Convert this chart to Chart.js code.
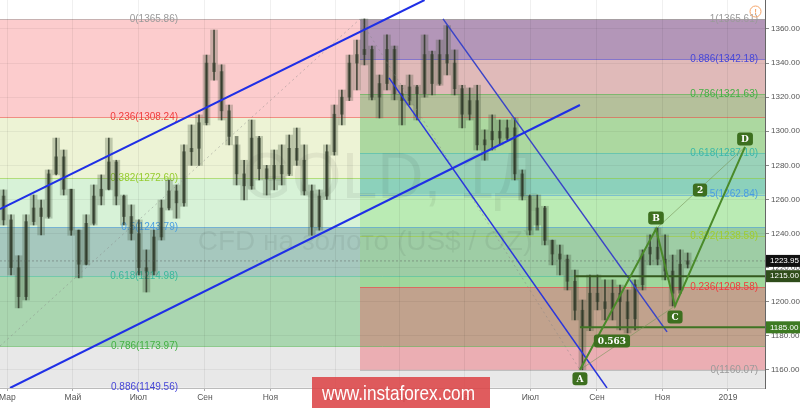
<!DOCTYPE html>
<html>
<head>
<meta charset="utf-8">
<script src="https://cdn.jsdelivr.net/npm/chart.js@4/dist/chart.umd.min.js"></script>
<style>
html, body { margin: 0; padding: 0; background: #fff; }
</style>
</head>
<body>
<canvas id="gold" width="800" height="408"></canvas>
<script>
// days counted from 1 Jan 2017
const firstDay = 52.2, lastDay = 764.5;
const tickDays = [59, 120, 181, 243, 304, 365, 424, 485, 546, 608, 669, 730];
const tickNames = ["Мар", "Май", "Июл", "Сен", "Ноя", "2018", "Мар", "Май", "Июл", "Сен", "Ноя", "2019"];
const priceTicks = [1160, 1180, 1200, 1220, 1240, 1260, 1280, 1300, 1320, 1340, 1360];

// weekly bars, first one centred on day 55.5
const firstWeekDay = 55.5;
const weekOpen = [1262, 1248, 1220, 1203, 1247, 1255, 1250, 1275, 1285, 1266, 1242, 1222, 1246, 1262, 1266, 1282,
  1262, 1250, 1240, 1220, 1218, 1238, 1255, 1265, 1258, 1288, 1290, 1305, 1340, 1335, 1312, 1297, 1275, 1268, 1296,
  1278, 1272, 1280, 1275, 1290, 1283, 1265, 1244, 1262, 1288, 1310, 1320, 1340, 1345, 1348, 1320, 1328, 1348, 1322,
  1318, 1326, 1322, 1345, 1328, 1345, 1340, 1325, 1310, 1318, 1292, 1295, 1300, 1296, 1302, 1275, 1262, 1242, 1255,
  1236, 1228, 1225, 1212, 1195, 1185, 1205, 1200, 1196, 1205, 1200, 1190, 1210, 1228, 1232, 1225, 1218, 1205, 1222];
const weekClose = [1248, 1220, 1203, 1247, 1255, 1250, 1275, 1285, 1266, 1242, 1222, 1246, 1262, 1266, 1282, 1262,
  1250, 1240, 1220, 1218, 1238, 1255, 1265, 1258, 1288, 1290, 1305, 1340, 1335, 1312, 1297, 1275, 1268, 1296, 1278,
  1272, 1280, 1275, 1290, 1283, 1265, 1244, 1262, 1288, 1310, 1320, 1340, 1345, 1348, 1320, 1328, 1348, 1322, 1318,
  1326, 1322, 1345, 1328, 1345, 1340, 1325, 1310, 1318, 1292, 1295, 1300, 1296, 1302, 1275, 1262, 1242, 1255, 1236,
  1228, 1225, 1212, 1195, 1185, 1205, 1200, 1196, 1205, 1200, 1190, 1210, 1228, 1232, 1225, 1218, 1205, 1222, 1224];
const weekHigh = [1265.6, 1251, 1227, 1251, 1262.6, 1259.7, 1277.3, 1296, 1289, 1266, 1242, 1251, 1268.5, 1274.4,
  1296, 1283, 1262.6, 1256.8, 1248, 1230.4, 1242, 1259.7, 1271.4, 1268.5, 1292, 1303.7, 1309.6, 1344.7, 1359.4, 1339,
  1315.4, 1292, 1283, 1306.6, 1297, 1280, 1289, 1292, 1297.8, 1301.9, 1292, 1268.5, 1265.6, 1292, 1315.4, 1324.2,
  1344.7, 1353.5, 1365.9, 1350, 1333, 1356.5, 1350, 1327, 1333, 1327, 1356.5, 1347, 1353.5, 1362, 1347.7, 1327,
  1325.4, 1327, 1300.8, 1309.6, 1306.6, 1306.6, 1307.8, 1277.3, 1262.6, 1262.6, 1256, 1236.2, 1233.3, 1227.4, 1218.6,
  1201, 1215.7, 1215.7, 1212.8, 1212.8, 1209.8, 1206.9, 1212.8, 1230.4, 1239.2, 1243.3, 1239.2, 1227.4, 1230.4, 1228.6];
const weekLow = [1245, 1215.7, 1196.4, 1201, 1245, 1239.2, 1249, 1274.4, 1262.6, 1239, 1214, 1221.6, 1245, 1256.8,
  1265.6, 1256.8, 1245, 1236.2, 1215.7, 1205.7, 1215.7, 1236.2, 1253.8, 1249, 1256, 1280, 1280, 1303.7, 1330, 1306.6,
  1292, 1268.5, 1259.7, 1266, 1271.4, 1262.6, 1265.6, 1268.5, 1274, 1280, 1262.6, 1239, 1242, 1260, 1286, 1303.7,
  1318, 1324.2, 1338.9, 1318.4, 1307.8, 1324.2, 1318.4, 1303.7, 1315.4, 1306.6, 1320, 1321.3, 1327, 1333, 1321.3,
  1302, 1306.6, 1289, 1283, 1289, 1292, 1295, 1271.4, 1259.7, 1239.2, 1245, 1233.3, 1221.6, 1215.7, 1206.9, 1189.3,
  1160.1, 1183, 1195.2, 1189.3, 1189.3, 1183.5, 1181.7, 1183.5, 1206.9, 1221.6, 1221.6, 1212.8, 1197.5, 1206.9, 1219.8];

// fibonacci retracements
const leftFibRatios = ["0", "0.236", "0.382", "0.5", "0.618", "0.786", "0.886"];
const leftFibPrices = [1365.86, 1308.24, 1272.60, 1243.79, 1214.98, 1173.97, 1149.56];
const leftFibColors = ["#9a9a9a", "#f03c3c", "#96cc30", "#4a9ee0", "#3cb89c", "#44b044", "#4646d8"];
const leftFibFills = ["rgb(252,204,205)", "rgb(237,243,213)", "rgb(215,242,215)", "rgb(166,200,190)",
  "rgb(170,214,176)", "rgb(232,232,232)"];
const leftFibLabelDay = 218;

const rightFibStartDay = 387.4;
const rightFibRatios = ["1", "0.886", "0.786", "0.618", "0.5", "0.382", "0.236", "0"];
const rightFibPrices = [1365.61, 1342.18, 1321.63, 1287.10, 1262.84, 1238.59, 1208.58, 1160.07];
const rightFibColors = ["#9a9a9a", "#4646d8", "#44b044", "#3cb8a8", "#4a9ee0", "#a0cc30", "#f03c3c", "#9a9a9a"];
const rightFibFills = ["rgba(92,85,160,0.45)", "rgba(117,113,105,0.2)", "rgba(76,175,80,0.4)", "rgba(0,150,136,0.35)",
  "rgba(120,220,100,0.3)", "rgba(140,220,110,0.3)", "rgba(242,54,69,0.32)"];
const rightFibLabelDay = 758;

// drawn lines: [day, price] ends
const upperChannel = [[52.2, 1254.4], [447.5, 1377.0]];
const lowerChannel = [[61.5, 1149.4], [592.2, 1315.4]];
const fallTop = [[464.7, 1365.9], [673.3, 1182.3]];
const fallLow = [[414.4, 1331.3], [617.4, 1149.4]];
const leftFibTrend = [[52.2, 1174.0], [387.4, 1365.86]];
const rightFibTrend = [[387.4, 1365.61], [592.2, 1160.07]];

// ABCD pattern
const patternNames = ["A", "B", "C", "D"];
const patternDays = [592.2, 663.0, 680.7, 745.9];
const patternPrices = [1160.07, 1242.7, 1197.5, 1290.8];
const ratioText = "0.563", ratioDay = 622, ratioPrice = 1177;
const stepText = "2", stepDay = 704, stepPrice = 1265.6;

const level1215 = [[586.6, 1215], [lastDay, 1215]];
const level1185 = [[592.2, 1185], [lastDay, 1185]];
const lastPrice = 1223.95;

const pts = (arr) => arr.map(p => ({ x: p[0], y: p[1] }));

function lineSet(points, color, width, dash) {
  return {
    type: "line", data: pts(points), borderColor: color, borderWidth: width,
    borderDash: dash || [], pointRadius: 0, fill: false, tension: 0
  };
}

const fibPlugin = {
  id: "fib",
  beforeDraw(chart) {
    const { ctx, chartArea: a, scales } = chart;
    const X = (d) => scales.x.getPixelForValue(d);
    const Y = (p) => scales.y.getPixelForValue(p);
    ctx.save();
    ctx.beginPath();
    ctx.rect(a.left, a.top, a.width, a.height);
    ctx.clip();
    for (let i = 0; i < leftFibFills.length; i++) {
      const y1 = Y(leftFibPrices[i]), y2 = Y(leftFibPrices[i + 1]);
      ctx.fillStyle = leftFibFills[i];
      ctx.fillRect(a.left, y1, a.right - a.left, y2 - y1);
    }
    const rx = X(rightFibStartDay);
    for (let i = 0; i < rightFibFills.length; i++) {
      const y1 = Y(rightFibPrices[i]), y2 = Y(rightFibPrices[i + 1]);
      ctx.fillStyle = rightFibFills[i];
      ctx.fillRect(rx, y1, a.right - rx, y2 - y1);
    }
    ctx.lineWidth = 1;
    ctx.globalAlpha = 0.55;
    leftFibPrices.forEach((p, i) => {
      const y = Math.round(Y(p)) + 0.5;
      ctx.strokeStyle = leftFibColors[i];
      ctx.beginPath(); ctx.moveTo(a.left, y); ctx.lineTo(a.right, y); ctx.stroke();
    });
    rightFibPrices.forEach((p, i) => {
      const y = Math.round(Y(p)) + 0.5;
      ctx.strokeStyle = rightFibColors[i];
      ctx.beginPath(); ctx.moveTo(rx, y); ctx.lineTo(a.right, y); ctx.stroke();
    });
    ctx.restore();
  },
  beforeDatasetsDraw(chart) {
    const { ctx, scales } = chart;
    const X = (d) => scales.x.getPixelForValue(d);
    const Y = (p) => scales.y.getPixelForValue(p);
    ctx.save();
    // watermark
    ctx.fillStyle = "rgba(0,0,0,0.06)";
    ctx.textAlign = "center";
    ctx.textBaseline = "alphabetic";
    ctx.font = "64px 'Liberation Sans', Arial, sans-serif";
    ctx.fillText("GOLD, 1Д", 390, 198);
    ctx.font = "28px 'Liberation Sans', Arial, sans-serif";
    ctx.fillText("CFD на золото (US$ / OZ)", 365, 250);
    // fib labels
    ctx.font = "10px 'Liberation Sans', Arial, sans-serif";
    ctx.textAlign = "right";
    ctx.textBaseline = "middle";
    leftFibPrices.forEach((p, i) => {
      ctx.fillStyle = leftFibColors[i];
      ctx.fillText(leftFibRatios[i] + "(" + p.toFixed(2) + ")", X(leftFibLabelDay), Y(p));
    });
    rightFibPrices.forEach((p, i) => {
      ctx.fillStyle = rightFibColors[i];
      ctx.fillText(rightFibRatios[i] + "(" + p.toFixed(2) + ")", X(rightFibLabelDay), Y(p));
    });
    ctx.restore();
  },
  afterDatasetsDraw(chart) {
    const { ctx, scales } = chart;
    const X = (d) => scales.x.getPixelForValue(d);
    const Y = (p) => scales.y.getPixelForValue(p);
    function tag(text, cx, cy) {
      ctx.font = "bold 9px 'DejaVu Serif', serif";
      const w = Math.max(12, ctx.measureText(text).width + 8), h = 13;
      ctx.fillStyle = "#3d6f1f";
      ctx.beginPath();
      ctx.roundRect(cx - w / 2, cy - h / 2, w, h, 3);
      ctx.fill();
      ctx.fillStyle = "#fff";
      ctx.textAlign = "center";
      ctx.textBaseline = "middle";
      ctx.fillText(text, cx, cy + 0.5);
    }
    ctx.save();
    const offs = [9, -11, 11, -8];
    patternNames.forEach((n, i) => tag(n, X(patternDays[i]), Y(patternPrices[i]) + offs[i]));
    tag(stepText, X(stepDay), Y(stepPrice));
    tag(ratioText, X(ratioDay), Y(ratioPrice));
    ctx.restore();
  },
  afterDraw(chart) {
    const { ctx, chartArea: a, scales } = chart;
    const Y = (p) => scales.y.getPixelForValue(p);
    ctx.save();
    function priceTag(value, bg) {
      const y = Y(value);
      ctx.fillStyle = bg;
      ctx.fillRect(a.right + 1, y - 6, 35, 12);
      ctx.fillStyle = "#fff";
      ctx.font = "8px 'Liberation Sans', Arial, sans-serif";
      ctx.textAlign = "left";
      ctx.textBaseline = "middle";
      ctx.fillText(value.toFixed(2), a.right + 5, y);
    }
    priceTag(lastPrice, "#111");
    priceTag(1215, "#2f4d1b");
    priceTag(1185, "#3d7a22");
    // broker banner
    ctx.fillStyle = "rgba(220,70,72,0.88)";
    ctx.fillRect(312, 377, 178, 31);
    ctx.fillStyle = "#fff";
    ctx.font = "21px 'Liberation Sans', Arial, sans-serif";
    ctx.textAlign = "left";
    ctx.textBaseline = "alphabetic";
    ctx.fillText("www.instaforex.com", 322, 400, 153);
    // alert icon
    ctx.strokeStyle = "#f5a468";
    ctx.lineWidth = 1;
    ctx.beginPath(); ctx.arc(755.5, 11.5, 5.5, 0, Math.PI * 2); ctx.stroke();
    ctx.fillStyle = "#f5a468";
    ctx.font = "bold 8px 'Liberation Sans', Arial, sans-serif";
    ctx.textAlign = "center"; ctx.textBaseline = "middle";
    ctx.fillText("!", 755.5, 12);
    ctx.restore();
  }
};

const rangeData = weekHigh.map((h, i) => ({ x: firstWeekDay + 7 * i, y: [weekLow[i], h] }));
const bodyData = weekOpen.map((o, i) => ({ x: firstWeekDay + 7 * i, y: [o, weekClose[i]] }));

new Chart(document.getElementById("gold"), {
  type: "bar",
  data: {
    datasets: [
      lineSet(patternDays.map((d, i) => [d, patternPrices[i]]), "#4a8a2a", 2),
      lineSet([[patternDays[0], patternPrices[0]], [patternDays[2], patternPrices[2]]], "rgba(120,150,90,0.6)", 1),
      lineSet([[patternDays[1], patternPrices[1]], [patternDays[3], patternPrices[3]]], "rgba(120,150,90,0.6)", 1),
      lineSet(level1215, "#35581f", 2),
      lineSet(level1185, "#3f7424", 2),
      lineSet(upperChannel, "#1f2fe6", 2),
      lineSet(lowerChannel, "#1f2fe6", 2),
      lineSet(fallTop, "#3a44c8", 1.5),
      lineSet(fallLow, "#2a36dd", 1.5),
      lineSet([[firstDay, lastPrice], [lastDay, lastPrice]], "rgba(90,90,90,0.45)", 1, [2, 2]),
      lineSet(leftFibTrend, "rgba(130,130,130,0.45)", 1, [2, 3]),
      lineSet(rightFibTrend, "rgba(130,130,130,0.45)", 1, [2, 3]),
      { type: "bar", data: rangeData, backgroundColor: "rgba(40,50,35,0.8)", barThickness: 1, grouped: false },
      { type: "bar", data: bodyData, backgroundColor: "rgba(60,72,52,0.6)", barThickness: 3, grouped: false },
      { type: "bar", data: rangeData, backgroundColor: "rgba(70,85,60,0.28)", barThickness: 7, grouped: false }
    ]
  },
  options: {
    responsive: false,
    animation: false,
    devicePixelRatio: 1,
    layout: { padding: 0 },
    plugins: { legend: { display: false }, tooltip: { enabled: false } },
    scales: {
      x: {
        type: "linear", min: firstDay, max: lastDay, offset: false,
        afterBuildTicks: (s) => { s.ticks = tickDays.map(v => ({ value: v })); },
        afterFit: (s) => { s.height = 20; s.paddingLeft = 0; s.paddingRight = 0; },
        grid: { color: "rgba(0,0,0,0.06)", offset: false, tickLength: 3, tickColor: "#aaa" },
        border: { color: "#bbb" },
        ticks: {
          autoSkip: false, maxRotation: 0, color: "#555", padding: 2,
          font: { family: "'Liberation Sans', Arial, sans-serif", size: 8.5 },
          callback: (v) => tickNames[tickDays.indexOf(v)]
        }
      },
      y: {
        position: "right", min: 1149.4, max: 1377,
        afterBuildTicks: (s) => { s.ticks = priceTicks.map(v => ({ value: v })); },
        afterFit: (s) => { s.width = 35; s.paddingTop = 0; s.paddingBottom = 0; },
        grid: { color: "rgba(0,0,0,0.05)", tickLength: 4, tickColor: "#888" },
        border: { color: "#666" },
        ticks: {
          color: "#555", padding: 2,
          font: { family: "'Liberation Sans', Arial, sans-serif", size: 8 },
          callback: (v) => v.toFixed(2)
        }
      }
    }
  },
  plugins: [fibPlugin]
});
</script>
</body>
</html>
